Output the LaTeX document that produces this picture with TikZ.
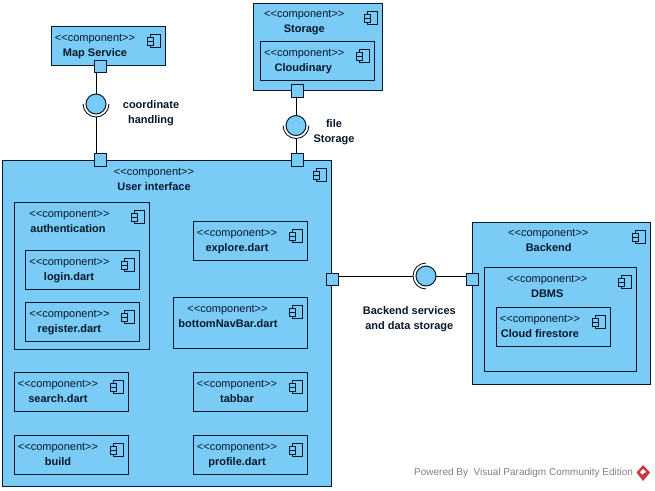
\documentclass[tikz,border=0pt]{standalone}
\usepackage{fontspec}
\setmainfont{Liberation Sans}
\definecolor{compblue}{HTML}{7ACBF5}
\definecolor{lineblue}{HTML}{06182B}
\definecolor{logored}{HTML}{C8383E}
\newcommand{\stereotype}{<{}<component>{}>}
\tikzset{
  comp/.style={draw=lineblue, fill=compblue, line width=1pt, anchor=north west, outer sep=0pt, inner sep=0pt},
  port/.style={draw=lineblue, fill=compblue, line width=1pt, minimum size=12.5pt, inner sep=0pt, outer sep=0pt},
  ball/.style={draw=lineblue, fill=compblue, line width=1pt, circle, minimum size=20pt, inner sep=0pt, outer sep=0pt},
  conn/.style={draw=black, line width=1pt},
  stereo/.style={inner sep=0pt, text=lineblue, font=\fontsize{11}{13}\selectfont, text height=10pt, text depth=2pt},
  lbl/.style={inner sep=0pt, text=lineblue, font=\fontsize{11}{13}\selectfont\bfseries, text height=10pt, text depth=2pt},
  compicon/.pic={
    \draw[lineblue, line width=1pt] (-15,8) rectangle (-4.5,21.5);
    \draw[lineblue, fill=compblue, line width=1pt] (-17.5,11) rectangle (-12,15);
    \draw[lineblue, fill=compblue, line width=1pt] (-17.5,15) rectangle (-12,19);
  }
}
\begin{document}
\begin{tikzpicture}[x=1pt, y=-1pt]
    \useasboundingbox (0,0) rectangle (655,490);

    % Map Service
    \node[comp, minimum width=114pt, minimum height=39pt] (mapService) at (51,26) {};
    \pic at (mapService.north east) {compicon};
    \node[stereo] at (95,37.5) {\stereotype};
    \node[lbl] at (95,52) {Map Service};

    % Storage
    \node[comp, minimum width=129pt, minimum height=87pt] (storage) at (253,3) {};
    \pic at (storage.north east) {compicon};
    \node[stereo] at (304.3,13.5) {\stereotype};
    \node[lbl] at (304.3,28.3) {Storage};
    \node[comp, minimum width=114pt, minimum height=39pt] (cloudinary) at (260,41) {};
    \pic at (cloudinary.north east) {compicon};
    \node[stereo] at (304.3,52.3) {\stereotype};
    \node[lbl] at (303.3,67) {Cloudinary};

    % User interface
    \node[comp, minimum width=329pt, minimum height=326pt] (userInterface) at (2,160) {};
    \pic at (userInterface.north east) {compicon};
    \node[stereo] at (154,171.7) {\stereotype};
    \node[lbl] at (154,186) {User interface};

    \node[comp, minimum width=135pt, minimum height=147pt] (authentication) at (14,202) {};
    \pic at (authentication.north east) {compicon};
    \node[stereo] at (69.5,213) {\stereotype};
    \node[lbl] at (68,228.5) {authentication};

    \node[comp, minimum width=114pt, minimum height=39pt] (login) at (25,250) {};
    \pic at (login.north east) {compicon};
    \node[stereo] at (69.5,261.3) {\stereotype};
    \node[lbl] at (69,276) {login.dart};

    \node[comp, minimum width=114pt, minimum height=39pt] (register) at (25,302) {};
    \pic at (register.north east) {compicon};
    \node[stereo] at (69.5,313) {\stereotype};
    \node[lbl] at (69.3,328) {register.dart};

    \node[comp, minimum width=114pt, minimum height=39pt] (search) at (14,372) {};
    \pic at (search.north east) {compicon};
    \node[stereo] at (58,383.3) {\stereotype};
    \node[lbl] at (58,398) {search.dart};

    \node[comp, minimum width=114pt, minimum height=39pt] (build) at (14,435) {};
    \pic at (build.north east) {compicon};
    \node[stereo] at (58,446.3) {\stereotype};
    \node[lbl] at (58,461) {build};

    \node[comp, minimum width=114pt, minimum height=39pt] (explore) at (193,221) {};
    \pic at (explore.north east) {compicon};
    \node[stereo] at (237,232.3) {\stereotype};
    \node[lbl] at (237,247.3) {explore.dart};

    \node[comp, minimum width=134pt, minimum height=51pt] (bottomNavBar) at (173,297) {};
    \pic at (bottomNavBar.north east) {compicon};
    \node[stereo] at (227.5,308.3) {\stereotype};
    \node[lbl] at (228,323) {bottomNavBar.dart};

    \node[comp, minimum width=114pt, minimum height=39pt] (tabbar) at (193,372) {};
    \pic at (tabbar.north east) {compicon};
    \node[stereo] at (237,383.3) {\stereotype};
    \node[lbl] at (237,398) {tabbar};

    \node[comp, minimum width=114pt, minimum height=39pt] (profile) at (193,435) {};
    \pic at (profile.north east) {compicon};
    \node[stereo] at (237,446.3) {\stereotype};
    \node[lbl] at (237,461) {profile.dart};

    % Backend
    \node[comp, minimum width=178pt, minimum height=162pt] (backend) at (472,222) {};
    \pic at (backend.north east) {compicon};
    \node[stereo] at (548.3,232.3) {\stereotype};
    \node[lbl] at (548.7,247) {Backend};

    \node[comp, minimum width=152pt, minimum height=104pt] (dbms) at (484,267) {};
    \pic at (dbms.north east) {compicon};
    \node[stereo] at (547.3,278.3) {\stereotype};
    \node[lbl] at (547.3,293) {DBMS};

    \node[comp, minimum width=114pt, minimum height=39pt] (firestore) at (496,307) {};
    \pic at (firestore.north east) {compicon};
    \node[stereo] at (540,318.3) {\stereotype};
    \node[lbl] at (540,333) {Cloud firestore};

    % ports
    \node[port] (mapPort) at (100.5,66.5) {};
    \node[port] (uiMapPort) at (100.5,160) {};
    \node[port] (storagePort) at (297.5,91) {};
    \node[port] (uiStoragePort) at (297.5,160) {};
    \node[port] (uiBackendPort) at (332.5,279.5) {};
    \node[port] (backendPort) at (472.5,279.5) {};

    % interfaces
    \node[ball] (mapBall) at (96,104) {};
    \node[ball] (storageBall) at (296,125.5) {};
    \node[ball] (backendBall) at (426,276) {};
    \coordinate (mapSocket) at (96,117);
    \coordinate (storageSocket) at (296,138.5);
    \coordinate (backendSocket) at (413,276);

    \draw[conn] (mapBall.north) -- (mapBall.north |- mapPort.south);
    \draw[conn] (mapSocket) -- (mapSocket |- uiMapPort.north);
    \draw[conn] (storageBall.north) -- (storageBall.north |- storagePort.south);
    \draw[conn] (storageSocket) -- (storageSocket |- uiStoragePort.north);
    \draw[conn] (backendSocket) -- (backendSocket -| uiBackendPort.east);
    \draw[conn] (backendBall.east) -- (backendBall.east -| backendPort.west);

    \draw[conn, line width=0.8pt] (83,104) arc[start angle=180, end angle=0, radius=13];
    \draw[conn, line width=0.8pt] (283,125.5) arc[start angle=180, end angle=0, radius=13];
    \draw[conn, line width=0.8pt] (426,263) arc[start angle=-90, end angle=-270, radius=13];

    % labels
    \node[lbl] at (151,104.3) {coordinate};
    \node[lbl] at (151,119.3) {handling};
    \node[lbl] at (334,123.3) {file};
    \node[lbl] at (334,138) {Storage};
    \node[lbl] at (409.3,310) {Backend services};
    \node[lbl] at (409.3,325) {and data storage};

    % watermark
    \node[inner sep=0pt, anchor=west, text=gray, font=\fontsize{10}{12}\selectfont] at (414,473) {Powered By\ \ Visual Paradigm Community Edition};
    \fill[logored] (643,465) -- (650,472.5) -- (643,481) -- (636.5,472.5) -- cycle;
    \fill[white] (643,469) -- (646,472) -- (642,474.5) -- (640,472) -- cycle;
\end{tikzpicture}
\end{document}
